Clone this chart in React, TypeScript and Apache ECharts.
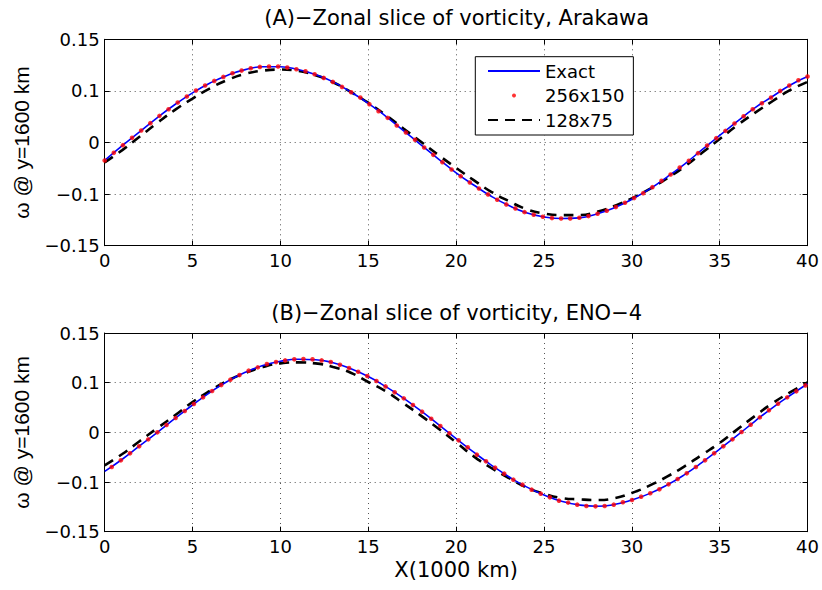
import React, { useEffect, useRef } from 'react';
import * as echarts from 'echarts';

// ---------- data ----------
const titles = ['(A)−Zonal slice of vorticity, Arakawa', '(B)−Zonal slice of vorticity, ENO−4'];
const seriesNames = ['Exact', '256x150', '128x75'];
const yTickLabels = ['−0.15', '−0.1', '0', '0.1', '0.15'];
const yAxisName = 'ω @ y=1600 km';
const xAxisName = 'X(1000 km)';

// x positions (1000 km) of the exact / 128x75 readings
const xCoarse = [0, 1, 2, 3, 4, 5, 6, 7, 8, 9, 10, 11, 12, 13, 14, 15, 16, 17, 18, 19, 20,
  21, 22, 23, 24, 25, 26, 27, 28, 29, 30, 31, 32, 33, 34, 35, 36, 37, 38, 39, 40];

// Panel A (Arakawa)
const exactA = [-0.0261, -0.0047, 0.0158, 0.0363, 0.0552, 0.0722, 0.0865, 0.0978, 0.1059, 0.1101,
  0.1100, 0.1060, 0.0987, 0.0881, 0.0734, 0.0570, 0.0381, 0.0174, -0.0034, -0.0240,
  -0.0440, -0.0618, -0.0782, -0.0916, -0.1020, -0.1081, -0.1104, -0.1095, -0.1039, -0.0949,
  -0.0825, -0.0678, -0.0502, -0.0313, -0.0105, 0.0102, 0.0308, 0.0503, 0.0668, 0.0833, 0.0958];
const coarseA = [-0.0290, -0.0111, 0.0087, 0.0286, 0.0474, 0.0639, 0.0789, 0.0910, 0.0997, 0.1045,
  0.1060, 0.1041, 0.0978, 0.0876, 0.0736, 0.0576, 0.0397, 0.0203, 0.0010, -0.0184,
  -0.0368, -0.0547, -0.0716, -0.0852, -0.0968, -0.1031, -0.1055, -0.1055, -0.1007, -0.0924,
  -0.0813, -0.0678, -0.0523, -0.0350, -0.0150, 0.0050, 0.0250, 0.0430, 0.0600, 0.0760, 0.0881];
const fineA = [-0.0261, -0.0150, -0.0039, 0.0068, 0.0174, 0.0281, 0.0387, 0.0484, 0.0581, 0.0668,
  0.0755, 0.0828, 0.0895, 0.0953, 0.1007, 0.1045, 0.1079, 0.1099, 0.1104, 0.1104,
  0.1089, 0.1065, 0.1036, 0.0992, 0.0939, 0.0881, 0.0808, 0.0731, 0.0653, 0.0557,
  0.0455, 0.0358, 0.0247, 0.0145, 0.0039, -0.0073, -0.0179, -0.0286, -0.0392, -0.0489,
  -0.0581, -0.0668, -0.0755, -0.0832, -0.0900, -0.0958, -0.1012, -0.1050, -0.1079, -0.1099,
  -0.1104, -0.1104, -0.1094, -0.1070, -0.1036, -0.0992, -0.0939, -0.0876, -0.0808, -0.0736,
  -0.0649, -0.0557, -0.0465, -0.0363, -0.0266, -0.0155, -0.0044, 0.0063, 0.0169, 0.0276,
  0.0382, 0.0484, 0.0571, 0.0653, 0.0750, 0.0828, 0.0905, 0.0958];

// Panel B (ENO-4)
const exactB = [-0.0589, -0.0406, -0.0202, 0.0001, 0.0210, 0.0413, 0.0604, 0.0772, 0.0907, 0.1009,
  0.1073, 0.1104, 0.1097, 0.1051, 0.0960, 0.0842, 0.0690, 0.0517, 0.0323, 0.0117,
  -0.0093, -0.0299, -0.0494, -0.0670, -0.0823, -0.0946, -0.1040, -0.1096, -0.1116, -0.1090,
  -0.1021, -0.0925, -0.0797, -0.0639, -0.0454, -0.0252, -0.0046, 0.0167, 0.0371, 0.0556, 0.0734];
const coarseB = [-0.0498, -0.0327, -0.0131, 0.0065, 0.0257, 0.0458, 0.0629, 0.0780, 0.0895, 0.0986,
  0.1041, 0.1056, 0.1041, 0.0986, 0.0900, 0.0760, 0.0619, 0.0438, 0.0252, 0.0055,
  -0.0151, -0.0362, -0.0538, -0.0689, -0.0830, -0.0926, -0.0991, -0.1011, -0.1021, -0.0996,
  -0.0915, -0.0805, -0.0669, -0.0513, -0.0337, -0.0160, 0.0045, 0.0246, 0.0438, 0.0604, 0.0755];
const fineB = [-0.0523, -0.0423, -0.0317, -0.0211, -0.0106, 0.0000, 0.0111, 0.0216, 0.0322, 0.0428,
  0.0528, 0.0624, 0.0714, 0.0795, 0.0865, 0.0931, 0.0981, 0.1031, 0.1061, 0.1086,
  0.1102, 0.1107, 0.1102, 0.1086, 0.1061, 0.1021, 0.0971, 0.0915, 0.0850, 0.0775,
  0.0694, 0.0604, 0.0513, 0.0412, 0.0312, 0.0206, 0.0096, -0.0015, -0.0121, -0.0226,
  -0.0337, -0.0438, -0.0533, -0.0624, -0.0714, -0.0790, -0.0865, -0.0926, -0.0981, -0.1031,
  -0.1061, -0.1092, -0.1112, -0.1117, -0.1112, -0.1092, -0.1056, -0.1021, -0.0971, -0.0920,
  -0.0860, -0.0785, -0.0704, -0.0619, -0.0523, -0.0423, -0.0317, -0.0211, -0.0106, 0.0005,
  0.0116, 0.0226, 0.0332, 0.0433, 0.0528, 0.0619, 0.0709];

// sample spacing of the 256x150 markers and the first marker position per panel
const fineStep = 40 / 77;
const fineStartA = 0;
const fineStartB = 0.4;

// ---------- styling ----------
const FONT = "'DejaVu Sans', sans-serif";
const YNAME_FONT = "'Liberation Sans', Arial, sans-serif";

function buildOption(): any {
  const panels = [
    { title: titles[0], exact: exactA, coarse: coarseA, fine: fineA, fineStart: fineStartA },
    { title: titles[1], exact: exactB, coarse: coarseB, fine: fineB, fineStart: fineStartB },
  ];
  const grids = [
    { left: 104.7, top: 39.3, width: 704, height: 206.4 },
    { left: 104.7, top: 333, width: 704, height: 198.7 },
  ];
  const titleTops = [6, 301];

  const xAxis: any[] = [];
  const yAxis: any[] = [];
  const series: any[] = [];
  const title: any[] = [];

  panels.forEach((p, i) => {
    title.push({
      text: p.title,
      left: 456.7,
      top: titleTops[i],
      textAlign: 'center',
      padding: 0,
      textStyle: { fontSize: 21, fontWeight: 'normal', fontFamily: FONT, color: '#000', lineHeight: 24 },
    });
    const axisLine = { show: true, onZero: false, lineStyle: { color: '#000', width: 1 } };
    const tick = { show: true, inside: true, length: 5, lineStyle: { color: '#000', width: 1 } };
    const split = { show: true, lineStyle: { color: '#555', width: 1, type: [1, 4] } };
    xAxis.push({
      type: 'value', gridIndex: i, min: 0, max: 40, interval: 5, position: 'bottom',
      axisLine, axisTick: tick, splitLine: split,
      axisLabel: { show: true, fontSize: 18, fontFamily: FONT, color: '#000', margin: 6 },
      ...(i === 1 ? {
        name: xAxisName, nameLocation: 'middle', nameGap: 26,
        nameTextStyle: { fontSize: 21, fontFamily: FONT, color: '#000', lineHeight: 24 },
      } : {}),
    });
    xAxis.push({
      type: 'value', gridIndex: i, min: 0, max: 40, interval: 5, position: 'top',
      axisLine, axisTick: tick, splitLine: { show: false }, axisLabel: { show: false },
    });
    yAxis.push({
      type: 'value', gridIndex: i, min: -0.15, max: 0.15, interval: 0.075, position: 'left',
      axisLine, axisTick: tick, splitLine: split,
      axisLabel: {
        show: true, fontSize: 18, fontFamily: FONT, color: '#000', margin: 5,
        formatter: (v: number) => yTickLabels[Math.round((v + 0.15) / 0.075)] ?? '',
      },
      name: yAxisName, nameLocation: 'middle', nameGap: 67,
      nameTextStyle: { fontSize: 21, fontFamily: YNAME_FONT, color: '#000', lineHeight: 24 },
    });
    yAxis.push({
      type: 'value', gridIndex: i, min: -0.15, max: 0.15, interval: 0.075, position: 'right',
      axisLine, axisTick: tick, splitLine: { show: false }, axisLabel: { show: false },
    });

    series.push({
      name: seriesNames[0], type: 'line', xAxisIndex: 2 * i, yAxisIndex: 2 * i,
      data: xCoarse.map((x, k) => [x, p.exact[k]]),
      showSymbol: false, symbol: 'none', smooth: true,
      lineStyle: { color: '#0000ff', width: 1.6 }, itemStyle: { color: '#0000ff' }, z: 3,
    });
    series.push({
      name: seriesNames[1], type: 'scatter', xAxisIndex: 2 * i, yAxisIndex: 2 * i,
      data: p.fine.map((v, k) => [p.fineStart + k * fineStep, v]),
      symbol: 'circle', symbolSize: 4.6,
      itemStyle: { color: '#ff0000' }, z: 4,
    });
    series.push({
      name: seriesNames[2], type: 'line', xAxisIndex: 2 * i, yAxisIndex: 2 * i,
      data: xCoarse.map((x, k) => [x, p.coarse[k]]),
      showSymbol: false, symbol: 'none', smooth: true,
      lineStyle: { color: '#000', width: 2.6, type: [10, 7] }, itemStyle: { color: '#000' }, z: 2,
    });
  });

  return {
    animation: false,
    backgroundColor: '#fff',
    textStyle: { fontFamily: FONT },
    title,
    grid: grids,
    xAxis,
    yAxis,
    series,
    legend: {
      data: [
        { name: seriesNames[0], itemStyle: { opacity: 0 } },
        { name: seriesNames[1] },
        { name: seriesNames[2], itemStyle: { opacity: 0 } },
      ],
      orient: 'vertical',
      left: 475.3,
      top: 56.7,
      padding: [3.3, 9, 4, 11.7],
      itemWidth: 52,
      itemHeight: 4,
      itemGap: 2.5,
      backgroundColor: '#fff',
      borderColor: '#000',
      borderWidth: 1,
      borderRadius: 0,
      selectedMode: false,
      textStyle: { fontSize: 18, fontFamily: FONT, color: '#000', lineHeight: 22 },
    },
  };
}

export default function App() {
  const ref = useRef<HTMLDivElement>(null);
  useEffect(() => {
    if (!ref.current) return;
    const chart = echarts.init(ref.current, undefined, { renderer: 'svg' });
    chart.setOption(buildOption());
    return () => chart.dispose();
  }, []);
  return (
    <div
      ref={ref}
      style={{ position: 'absolute', left: 0, top: 0, width: 822, height: 590, background: '#fff' }}
    />
  );
}
